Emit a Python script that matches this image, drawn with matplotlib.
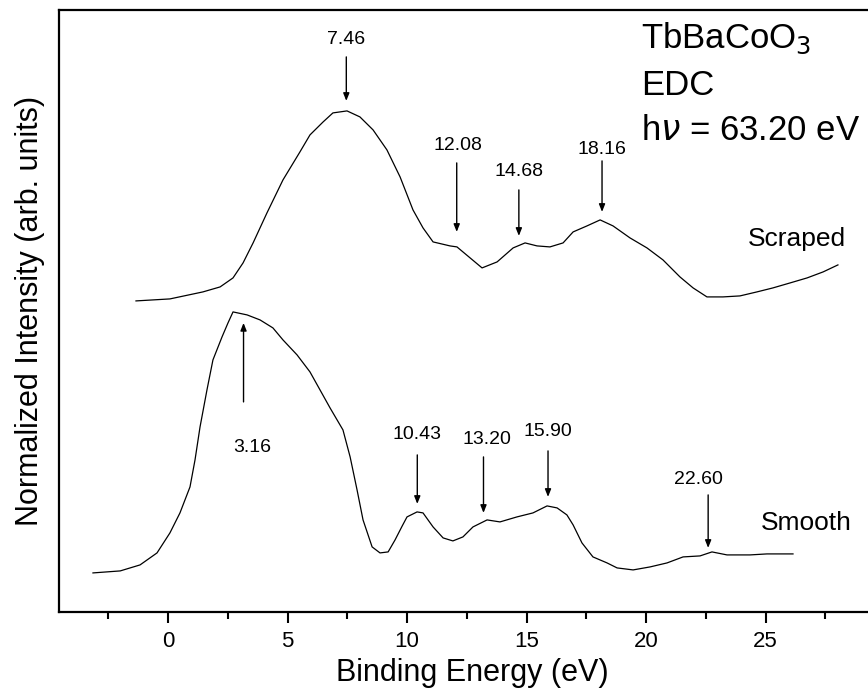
import matplotlib
matplotlib.use('Agg')
import matplotlib.pyplot as plt
from matplotlib.ticker import FixedLocator

plt.rcParams['font.family'] = ['Liberation Sans', 'DejaVu Sans']

#%% Data
scraped_ev = [-1.34, 0.08, 1.46, 2.18, 2.72, 3.14, 3.56, 4.14, 4.81, 5.52, 5.94, 6.49,
              6.90, 7.49, 8.03, 8.58, 9.16, 9.71, 10.25, 10.67, 11.09, 11.80, 12.09,
              12.64, 13.14, 13.77, 14.44, 14.94, 15.44, 15.98, 16.53, 16.95, 17.53,
              18.08, 18.62, 19.33, 20.04, 20.71, 21.42, 21.97, 22.55, 23.22, 23.93,
              24.64, 25.31, 26.03, 26.74, 27.41, 28.03]
scraped_int = [3.11, 3.13, 3.20, 3.25, 3.34, 3.49, 3.69, 3.99, 4.32, 4.60, 4.77, 4.90,
               4.99, 5.01, 4.95, 4.82, 4.62, 4.35, 4.02, 3.84, 3.70, 3.66, 3.65,
               3.54, 3.44, 3.50, 3.64, 3.69, 3.66, 3.65, 3.69, 3.80, 3.86,
               3.92, 3.86, 3.74, 3.64, 3.52, 3.35, 3.24, 3.15, 3.15, 3.16,
               3.20, 3.24, 3.29, 3.34, 3.40, 3.47]

smooth_ev = [-3.14, -2.0, -1.17, -0.46, 0.08, 0.50, 0.92, 1.13, 1.34, 1.63, 1.88, 2.26,
             2.51, 2.72, 3.31, 3.85, 4.39, 4.81, 5.40, 5.94, 6.36, 6.78, 7.32, 7.62,
             7.91, 8.16, 8.54, 8.87, 9.21, 9.50, 9.80, 10.0, 10.42, 10.67, 11.09,
             11.51, 11.92, 12.34, 12.76, 13.35, 13.89, 14.60, 15.27, 15.86, 16.28,
             16.69, 16.95, 17.32, 17.78, 18.37, 18.79, 19.46, 20.17, 20.88, 21.55,
             22.26, 22.76, 23.39, 24.35, 25.06, 26.15]
smooth_int = [0.39, 0.41, 0.47, 0.59, 0.79, 0.99, 1.25, 1.52, 1.85, 2.22, 2.52, 2.75,
              2.89, 3.00, 2.97, 2.92, 2.84, 2.72, 2.57, 2.40, 2.22, 2.04, 1.82, 1.55,
              1.22, 0.92, 0.65, 0.59, 0.60, 0.72, 0.86, 0.95, 1.00, 0.99, 0.85,
              0.74, 0.71, 0.75, 0.85, 0.92, 0.90, 0.95, 0.99, 1.06, 1.04,
              0.97, 0.87, 0.69, 0.55, 0.49, 0.44, 0.42, 0.45, 0.49, 0.55,
              0.56, 0.60, 0.57, 0.57, 0.58, 0.58]

scraped_peaks = [7.46, 12.08, 14.68, 18.16]
smooth_peaks = [3.16, 10.43, 13.20, 15.90, 22.60]

major_ticks = [0, 5, 10, 15, 20, 25]
minor_ticks = [-2.5, 2.5, 7.5, 12.5, 17.5, 22.5, 27.5]

#%% Arrow layout: (text x shift, text y, arrow tail y, arrow tip y)
scraped_layout = [(0.0, 5.72, 5.55, 5.11),
                  (0.05, 4.66, 4.49, 3.80),
                  (0.0, 4.40, 4.22, 3.76),
                  (0.0, 4.62, 4.51, 4.00)]
smooth_layout = [(0.35, 1.64, 2.10, 2.89),
                 (0.0, 1.77, 1.57, 1.08),
                 (0.15, 1.72, 1.55, 0.99),
                 (0.0, 1.80, 1.61, 1.15),
                 (-0.4, 1.32, 1.17, 0.64)]

#%% Plot
fig = plt.figure(figsize=(8.68, 6.93), dpi=100)
ax = fig.add_axes([0.068, 0.117, 0.9516, 0.8687])

ax.plot(scraped_ev, scraped_int, color='black', lw=0.9)
ax.plot(smooth_ev, smooth_int, color='black', lw=0.9)

arrow = dict(arrowstyle='-|>,head_length=0.45,head_width=0.18', color='black',
             lw=1.0, shrinkA=0, shrinkB=0)
for peaks, layout in ((scraped_peaks, scraped_layout), (smooth_peaks, smooth_layout)):
    for e, (dx, ty, y0, y1) in zip(peaks, layout):
        ax.annotate('', xy=(e, y1), xytext=(e, y0), arrowprops=arrow)
        ax.text(e + dx, ty, '%.2f' % e, ha='center', va='center', fontsize=14)

ax.text(26.3, 3.73, 'Scraped', ha='center', va='center', fontsize=19)
ax.text(26.7, 0.89, 'Smooth', ha='center', va='center', fontsize=19)

ax.text(19.8, 5.74, r'TbBaCoO$_3$', ha='left', va='center', fontsize=25)
ax.text(19.8, 5.26, 'EDC', ha='left', va='center', fontsize=25)
ax.text(19.8, 4.81, r'h$\nu$ = 63.20 eV', ha='left', va='center', fontsize=25)

ax.set_xlim(-4.56, 30)
ax.set_ylim(0, 6.02)
ax.xaxis.set_major_locator(FixedLocator(major_ticks))
ax.xaxis.set_minor_locator(FixedLocator(minor_ticks))
ax.tick_params(axis='x', which='major', direction='out', length=8, width=1.5,
               labelsize=16, pad=6)
ax.tick_params(axis='x', which='minor', direction='out', length=5, width=1.5)
ax.set_yticks([])
for sp in ax.spines.values():
    sp.set_linewidth(1.6)

ax.set_xlabel('Binding Energy (eV)', fontsize=22, labelpad=4)
ax.set_ylabel('Normalized Intensity (arb. units)', fontsize=22, labelpad=10)

fig.savefig('out.png', dpi=100)
